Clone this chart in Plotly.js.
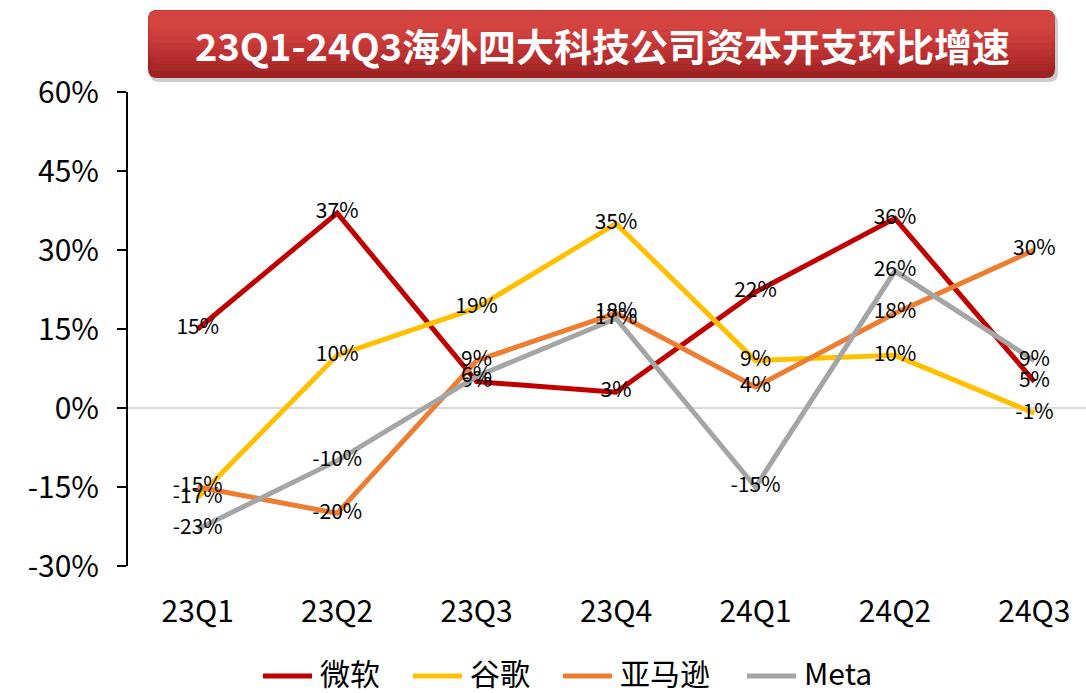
<!DOCTYPE html>
<html>
<head>
<meta charset="utf-8">
<script src="https://cdn.plot.ly/plotly-3.0.1.min.js"></script>
<style>
html,body{margin:0;padding:0;background:#fff;}
#chart{width:1086px;height:693px;}
</style>
</head>
<body>
<div id="chart"></div>
<script>
// ---- data ----
const quarters = ['23Q1','23Q2','23Q3','23Q4','24Q1','24Q2','24Q3'];
const microsoft = [15, 37, 5, 3, 22, 36, 5];
const google    = [-17, 10, 19, 35, 9, 10, -1];
const amazon    = [-15, -20, 9, 18, 4, 18, 30];
const meta      = [-23, -10, 6, 17, -15, 26, 9];
const seriesNames = ['微软','谷歌','亚马逊','Meta'];
const yTicks = [-30, -15, 0, 15, 30, 45, 60];
const chartTitle = '23Q1-24Q3海外四大科技公司资本开支环比增速';

const colors = ['#C00000','#FFC000','#ED7D31','#A5A5A5'];
const FONT = '"Noto Sans CJK SC", "Microsoft YaHei", sans-serif';

const W = 1086, H = 693;
const L = 128, R = 0, T = 92, B = 127;
const PW = W - L - R, PH = H - T - B;
function px(x){ return (x - L) / PW; }
function py(y){ return (H - B - y) / PH; }
function roundRect(x0, y0, x1, y1, r){
  const a = px(x0), b = px(x1), c = py(y0), d = py(y1);
  const rx = r / PW, ry = r / PH;
  return `M ${a+rx} ${c} L ${b-rx} ${c} Q ${b} ${c} ${b} ${c-ry} L ${b} ${d+ry} Q ${b} ${d} ${b-rx} ${d} L ${a+rx} ${d} Q ${a} ${d} ${a} ${d+ry} L ${a} ${c-ry} Q ${a} ${c} ${a+rx} ${c} Z`;
}

const allSeries = [microsoft, google, amazon, meta];
const traces = allSeries.map((vals, i) => ({
  type: 'scatter',
  mode: 'lines+text',
  name: seriesNames[i],
  x: quarters,
  y: vals,
  text: vals.map(v => v + '%'),
  textposition: 'middle center',
  textfont: {family: FONT, size: 21, color: '#000'},
  line: {color: colors[i], width: 5},
  cliponaxis: false,
  showlegend: false,
  hoverinfo: 'x+y+name'
}));

// title box shapes (gradient simulated by stacked bands)
const shapes = [];
shapes.push({type:'path', xref:'paper', yref:'paper', path: roundRect(150, 14, 1058, 82, 9), fillcolor:'rgba(110,110,110,0.35)', line:{width:0}, layer:'above'});
shapes.push({type:'path', xref:'paper', yref:'paper', path: roundRect(148, 10, 1055, 78, 9), fillcolor:'#9e2222', line:{width:0}, layer:'above'});
const bandColors = ['#9e2222','#a82727','#b22c2c','#bb3131','#c33636','#ca3b3a','#d0403e','#d4443f'];
for (let k = 1; k < bandColors.length; k++) {
  const bottom = 78 - k * 7;
  shapes.push({type:'path', xref:'paper', yref:'paper', path: roundRect(148.5, 10.5, 1054.5, bottom, 8.5), fillcolor: bandColors[k], line:{width:0}, layer:'above'});
}

// manual legend (line keys + text)
const legendLineX = [261, 411, 561, 745];
const legendY = 672;
const annotations = [{
  xref: 'paper', yref: 'paper',
  x: px(602), y: py(45),
  xanchor: 'center', yanchor: 'middle',
  text: '<b>' + chartTitle + '</b>',
  showarrow: false,
  font: {family: FONT, size: 38, color: '#fff'}
}];
seriesNames.forEach((nm, i) => {
  const x0 = legendLineX[i];
  shapes.push({type:'line', xref:'paper', yref:'paper', x0: px(x0 + 2), x1: px(x0 + 51), y0: py(legendY + 4), y1: py(legendY + 4),
    line:{color: colors[i], width: 5}, layer:'above'});
  annotations.push({
    xref:'paper', yref:'paper', x: px(x0 + 57), y: py(legendY),
    xanchor:'left', yanchor:'middle', showarrow:false,
    height: 36, valign: 'middle',
    text: nm, font:{family: FONT, size: 30, color:'#000'}
  });
});

const layout = {
  width: W, height: H,
  margin: {l: L, r: R, t: T, b: B},
  paper_bgcolor: '#fff', plot_bgcolor: '#fff',
  font: {family: FONT, color: '#000'},
  showlegend: false,
  xaxis: {
    type: 'category',
    range: [-0.5, 6.37],
    showline: false, showgrid: false, zeroline: false,
    ticks: '',
    tickfont: {family: FONT, size: 30, color: '#000'},
    ticklabelstandoff: 25,
    fixedrange: true
  },
  yaxis: {
    range: [-30, 60],
    tickvals: yTicks,
    ticktext: yTicks.map(v => v + '%'),
    showline: true, linecolor: '#000', linewidth: 2,
    ticks: 'outside', ticklen: 9, tickwidth: 2, tickcolor: '#000',
    showgrid: false,
    zeroline: true, zerolinecolor: '#d9d9d9', zerolinewidth: 2,
    tickfont: {family: FONT, size: 30, color: '#000'},
    ticklabelstandoff: 12,
    fixedrange: true
  },
  shapes: shapes,
  annotations: annotations
};

Plotly.newPlot('chart', traces, layout, {displayModeBar: false, staticPlot: true});
</script>
</body>
</html>
